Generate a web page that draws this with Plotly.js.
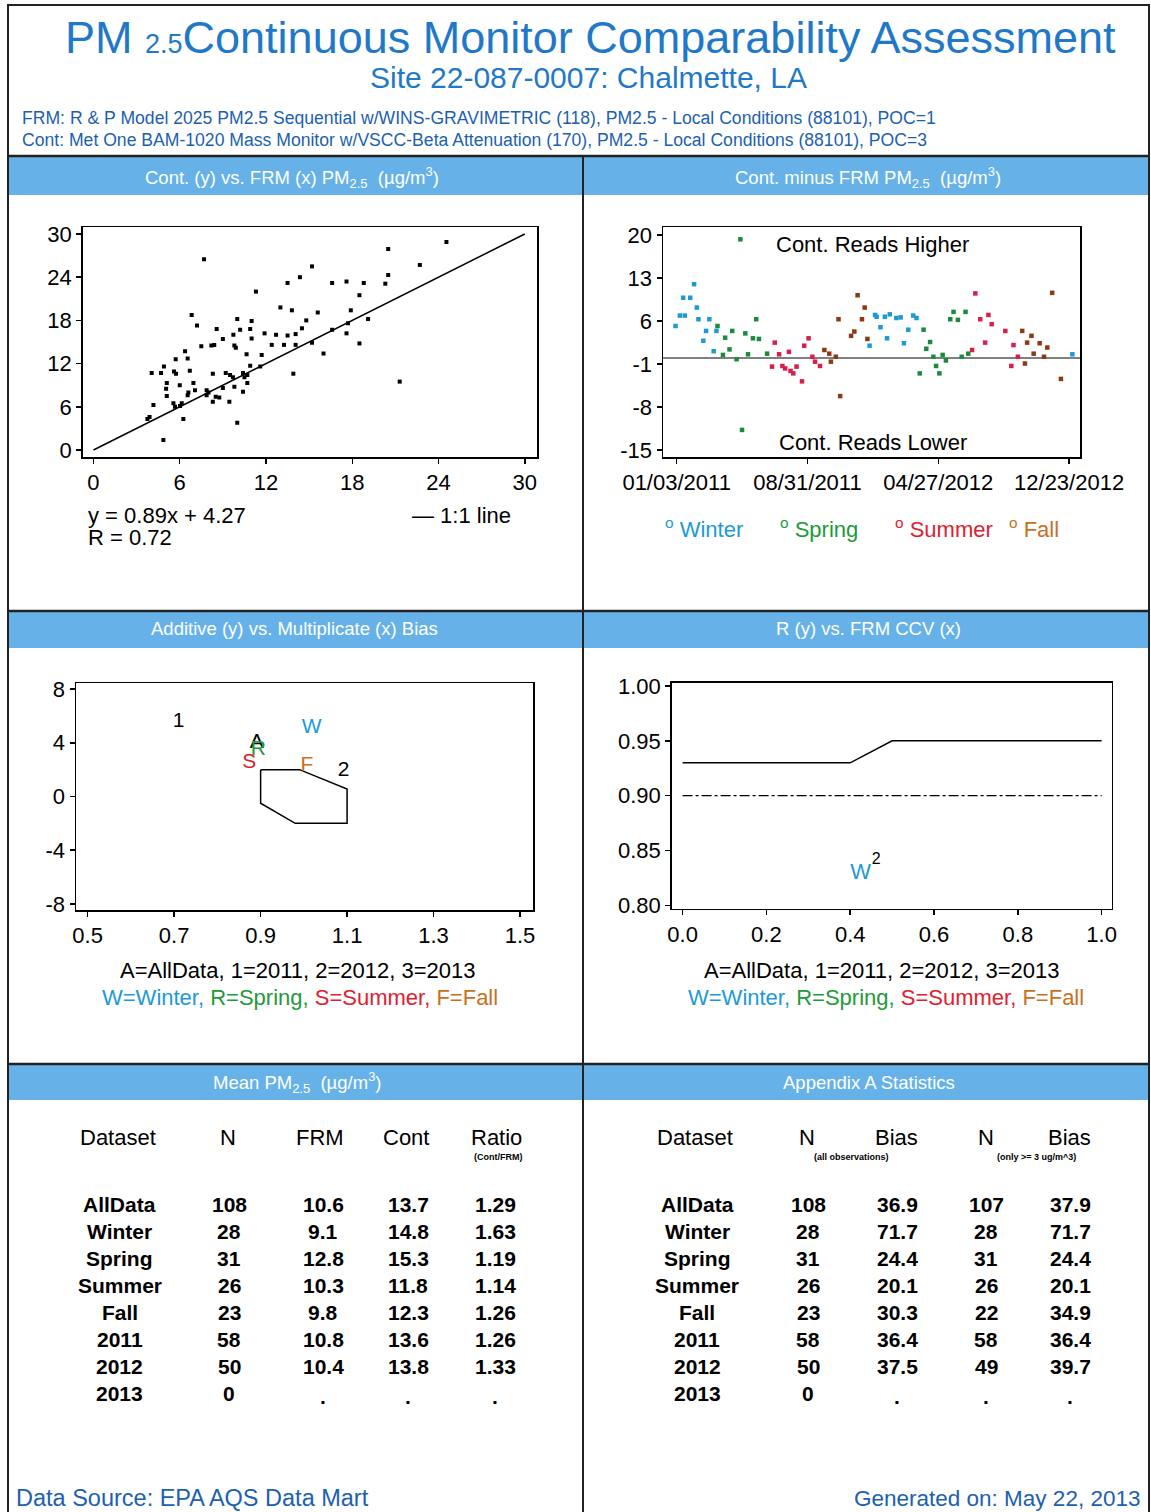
<!DOCTYPE html>
<html>
<head>
<meta charset="utf-8">
<script src="https://cdn.plot.ly/plotly-3.0.1.min.js"></script>
<style>html,body{margin:0;padding:0;background:#fff;}#chart{width:1151px;height:1512px;}</style>
</head>
<body>
<div id="chart"></div>
<script>
// ---------- DATA ----------
// Scatter: Cont (y) vs FRM (x)
const frmX = [7.69,24.55,20.5,22.7,15.2,14.36,20.5,13.5,16.6,17.6,
  18.8,20.3,18.5,11.3,6.83,7.2,10.0,11.0,13.0,13.8,
  15.6,17.9,19.1,14.8,14.5,16.6,17.7,8.57,10.2,10.9,
  11.0,9.0,9.73,11.9,12.7,13.5,14.06,17.6,7.5,8.2,
  8.4,9.8,9.9,13.25,14.06,15.2,18.5,16.0,11.7,10.65,
  6.37,6.55,5.72,10.9,11.6,4.9,4.7,4.05,5.6,5.74,
  6.7,8.3,9.2,9.5,10.4,13.9,9.7,10.5,10.7,5.1,
  6.0,6.95,10.7,21.3,5.05,7.06,7.87,9.0,9.8,6.6,
  6.55,5.1,7.87,8.5,8.75,10.4,8.3,9.45,5.56,5.67,
  6.02,4.17,6.14,3.75,6.25,10.0,4.86,12.4,8.0,3.9];
const contY = [26.5,28.9,27.9,25.7,25.5,24.0,24.3,23.2,23.2,23.4,
  23.2,23.1,21.5,22.0,18.75,17.3,18.2,17.9,19.8,19.4,
  19.1,19.4,18.2,18.0,16.9,16.7,17.6,16.8,16.7,16.8,
  15.5,15.4,16.0,16.2,16.0,15.9,16.1,16.2,14.4,14.5,
  14.6,14.5,14.2,14.6,14.6,14.9,14.8,13.4,13.2,13.3,
  13.7,12.7,12.6,11.7,11.6,11.6,10.7,10.7,10.9,10.6,
  11.0,10.6,10.7,10.4,10.7,10.6,10.1,10.1,10.4,9.3,
  9.0,9.3,9.3,9.5,8.5,8.3,8.3,8.6,8.8,8.0,
  7.6,7.5,7.6,7.4,7.3,8.1,6.7,6.7,6.5,6.0,
  6.1,6.25,6.5,4.3,4.3,3.8,1.4,14.6,8.0,4.6];
const oneToOneX = [0, 30];
const oneToOneY = [0, 30];
const scatterTicks = [0, 6, 12, 18, 24, 30];

// Time series: Cont minus FRM by season
const winterDates = ['2011-01-01','2011-01-09','2011-01-18','2011-01-15','2011-01-28','2011-02-04','2011-02-09','2011-02-12','2011-02-21','2011-02-26','2011-03-04','2011-03-12','2011-03-17',
  '2011-12-23','2012-01-02','2012-01-05','2012-01-12','2012-01-20','2012-01-24','2012-01-29','2012-02-10','2012-02-18','2012-02-24','2012-03-03','2012-03-12','2012-03-18','2012-12-29'];
const winterDiff = [5.2,6.9,6.9,9.8,9.8,12.0,8.2,6.3,2.8,4.4,6.3,1.1,4.4,
  2.0,7.0,6.7,5.0,6.7,3.2,7.1,6.5,6.6,2.4,4.6,6.9,6.5,0.6];
const springDates = ['2011-03-19','2011-03-29','2011-04-02','2011-04-10','2011-04-15','2011-04-23','2011-04-30','2011-05-03','2011-05-09','2011-05-14','2011-05-23','2011-05-29','2011-06-03','2011-06-18',
  '2012-03-24','2012-03-31','2012-04-05','2012-04-12','2012-04-18','2012-04-23','2012-04-29','2012-05-05','2012-05-11','2012-05-19','2012-05-25','2012-06-02','2012-06-09','2012-06-16','2012-06-21'];
const springDiff = [5.2,0.5,3.3,1.4,4.4,-0.2,19.3,-11.7,4.0,0.6,3.2,6.3,3.1,0.7,
  -2.5,4.6,1.5,2.6,0.2,-1.3,-2.5,0.5,-0.4,6.3,7.5,6.2,0.2,7.5,0.7];
const summerDates = ['2011-06-27','2011-07-02','2011-07-10','2011-07-16','2011-07-21','2011-07-28','2011-07-31','2011-08-05','2011-08-11','2011-08-21','2011-08-25','2011-09-02','2011-09-09','2011-09-14','2011-09-23',
  '2012-06-28','2012-07-04','2012-07-13','2012-07-22','2012-07-28','2012-08-03','2012-08-28','2012-09-08','2012-09-12','2012-09-20'];
const summerDiff = [-1.4,2.5,0.6,-1.3,-1.7,1.0,-2.1,-2.5,-1.4,-3.8,2.0,3.2,0.2,-0.6,-1.3,
  1.3,10.5,6.3,2.5,7.0,5.5,4.4,-1.3,2.1,0.2];
const fallDates = ['2011-10-01','2011-10-10','2011-10-13','2011-10-22','2011-10-27','2011-10-30','2011-11-19','2011-11-25','2011-12-01','2011-12-09','2011-12-14','2011-12-19',
  '2012-09-28','2012-10-03','2012-10-07','2012-10-15','2012-10-19','2012-10-30','2012-11-07','2012-11-13','2012-11-22','2012-12-08'];
const fallDiff = [1.3,0.7,-0.6,0.2,6.3,-6.2,3.6,4.3,10.2,6.3,8.2,3.1,
  4.4,-0.9,2.5,3.6,0.7,2.4,0.2,1.7,10.6,-3.4];
const tsTickDates = ['2011-01-03','2011-08-31','2012-04-27','2012-12-23'];
const tsTickText = ['01/03/2011','08/31/2011','04/27/2012','12/23/2012'];
const tsYTicks = [20, 13, 6, -1, -8, -15];
const tsYTickText = ['20', '13', '6', '-1', '-8', '-15'];

// Additive vs multiplicative bias
const biasLabels = ['1','W','A','R','S','F','2'];
const biasSlope = [0.71, 1.018, 0.891, 0.895, 0.874, 1.007, 1.092];
const biasIntercept = [5.6, 5.1, 4.0, 3.45, 2.5, 2.3, 1.95];
const polySlope = [0.9, 0.99, 1.1, 1.1, 0.98, 0.9, 0.9];
const polyIntercept = [2, 2, 0.55, -2, -2, -0.5, 2];
const biasXTicks = [0.5, 0.7, 0.9, 1.1, 1.3, 1.5];
const biasXTickText = ['0.5', '0.7', '0.9', '1.1', '1.3', '1.5'];
const biasYTicks = [8, 4, 0, -4, -8];
const biasYTickText = ['8', '4', '0', '-4', '-8'];

// R vs FRM CCV
const ccvX = [0.0, 0.4, 0.5, 1.0];
const rLimit = [0.93, 0.93, 0.95, 0.95];
const ccvRefX = [0.0, 1.0];
const rRef = [0.90, 0.90];
const rLabels = ['W', '2'];
const rLabelX = [0.425, 0.462];
const rLabelY = [0.829, 0.841];
const rXTicks = [0.0, 0.2, 0.4, 0.6, 0.8, 1.0];
const rXTickText = ['0.0', '0.2', '0.4', '0.6', '0.8', '1.0'];
const rYTicks = [1.00, 0.95, 0.90, 0.85, 0.80];
const rYTickText = ['1.00', '0.95', '0.90', '0.85', '0.80'];

// Tables
const datasets = ['AllData','Winter','Spring','Summer','Fall','2011','2012','2013'];
const meanN = ['108','28','31','26','23','58','50','0'];
const meanFRM = ['10.6','9.1','12.8','10.3','9.8','10.8','10.4','.'];
const meanCont = ['13.7','14.8','15.3','11.8','12.3','13.6','13.8','.'];
const meanRatio = ['1.29','1.63','1.19','1.14','1.26','1.26','1.33','.'];
const appN1 = ['108','28','31','26','23','58','50','0'];
const appBias1 = ['36.9','71.7','24.4','20.1','30.3','36.4','37.5','.'];
const appN2 = ['107','28','31','26','22','58','49','.'];
const appBias2 = ['37.9','71.7','24.4','20.1','34.9','36.4','39.7','.'];

// ---------- LAYOUT HELPERS ----------
const W = 1151, H = 1512;
const FONT = 'Liberation Sans, Arial, sans-serif';
const cWinter = '#1c9ad6', cSpring = '#1b8a3c', cSummer = '#d81e4a', cFall = '#8b3a12';
const lWinter = '#1c9ad6', lSpring = '#1e9a3a', lSummer = '#e0202e', lFall = '#c8701e';
const px = x => x / W, py = y => 1 - y / H;
function ann(text, x, y, o) {
  o = o || {};
  return {text: text, xref: 'paper', yref: 'paper', x: px(x), y: py(y), showarrow: false,
    xanchor: o.xa || 'center', yanchor: 'middle',
    font: {family: FONT, size: o.size || 22, color: o.color || '#000', weight: o.weight || 'normal'}};
}
function axisBase(extra) {
  return Object.assign({showline: true, mirror: true, linecolor: '#000', linewidth: 1.5,
    ticks: 'outside', ticklen: 5, tickcolor: '#000', tickwidth: 1.5, showgrid: false, zeroline: false,
    tickfont: {family: FONT, size: 22, color: '#000'}, fixedrange: true}, extra);
}

const traces = [
  {type: 'scatter', mode: 'markers', x: frmX, y: contY, xaxis: 'x', yaxis: 'y',
    marker: {symbol: 'square', size: 4, color: '#000'}, hoverinfo: 'skip'},
  {type: 'scatter', mode: 'lines', x: oneToOneX, y: oneToOneY, xaxis: 'x', yaxis: 'y',
    line: {color: '#000', width: 1.5}, hoverinfo: 'skip'},
  {type: 'scatter', mode: 'markers', x: winterDates, y: winterDiff, xaxis: 'x2', yaxis: 'y2',
    marker: {symbol: 'square', size: 4.5, color: cWinter}},
  {type: 'scatter', mode: 'markers', x: springDates, y: springDiff, xaxis: 'x2', yaxis: 'y2',
    marker: {symbol: 'square', size: 4.5, color: cSpring}},
  {type: 'scatter', mode: 'markers', x: summerDates, y: summerDiff, xaxis: 'x2', yaxis: 'y2',
    marker: {symbol: 'square', size: 4.5, color: cSummer}},
  {type: 'scatter', mode: 'markers', x: fallDates, y: fallDiff, xaxis: 'x2', yaxis: 'y2',
    marker: {symbol: 'square', size: 4.5, color: cFall}},
  {type: 'scatter', mode: 'lines', x: polySlope, y: polyIntercept, xaxis: 'x3', yaxis: 'y3',
    line: {color: '#000', width: 1.5}},
  {type: 'scatter', mode: 'text', x: biasSlope, y: biasIntercept, text: biasLabels, xaxis: 'x3', yaxis: 'y3',
    textfont: {family: FONT, size: 21, color: ['#000', lWinter, '#000', lSpring, lSummer, lFall, '#000']}},
  {type: 'scatter', mode: 'lines', x: ccvX, y: rLimit, xaxis: 'x4', yaxis: 'y4',
    line: {color: '#000', width: 1.5}},
  {type: 'scatter', mode: 'lines', x: ccvRefX, y: rRef, xaxis: 'x4', yaxis: 'y4',
    line: {color: '#000', width: 1.3, dash: '10px,3px,3px,3px'}},
  {type: 'scatter', mode: 'text', x: rLabelX, y: rLabelY, text: rLabels, xaxis: 'x4', yaxis: 'y4',
    textfont: {family: FONT, size: [22, 16], color: [lWinter, '#000']}}
];

const shapes = [];
const frameColor = '#222';
shapes.push({type: 'rect', xref: 'paper', yref: 'paper', x0: px(8), x1: px(1149), y0: py(1513), y1: py(5), line: {color: frameColor, width: 2}});
[[156, 195], [611, 648], [1064, 1100]].forEach(b => {
  shapes.push({type: 'rect', xref: 'paper', yref: 'paper', x0: px(9), x1: px(1148), y0: py(b[1]), y1: py(b[0]),
    fillcolor: '#66b2e8', line: {width: 0}, layer: 'below'});
  shapes.push({type: 'line', xref: 'paper', yref: 'paper', x0: px(8), x1: px(1149), y0: py(b[0]), y1: py(b[0]),
    line: {color: frameColor, width: 2.5}});
});
shapes.push({type: 'line', xref: 'paper', yref: 'paper', x0: px(583), x1: px(583), y0: py(156), y1: py(1513),
  line: {color: frameColor, width: 2}});
shapes.push({type: 'line', xref: 'x2 domain', yref: 'y2', x0: 0, x1: 1, y0: 0, y1: 0,
  line: {color: '#808080', width: 2}, layer: 'below'});

const seasonLegend = '<span style="color:' + lWinter + '">W=Winter, </span><span style="color:' + lSpring + '">R=Spring, </span><span style="color:' + lSummer + '">S=Summer, </span><span style="color:' + lFall + '">F=Fall</span>';
const annotations = [
  ann('PM <span style="font-size:27px">2.5</span>Continuous Monitor Comparability Assessment', 590, 38, {size: 45, color: '#1f78c8'}),
  ann('Site 22-087-0007: Chalmette, LA', 588, 77, {size: 30, color: '#1f78c8'}),
  ann('FRM: R &amp; P Model 2025 PM2.5 Sequential w/WINS-GRAVIMETRIC (118), PM2.5 - Local Conditions (88101), POC=1', 20, 118, {xa: 'left', size: 17.6, color: '#1d5fae'}),
  ann('Cont: Met One BAM-1020 Mass Monitor w/VSCC-Beta Attenuation (170), PM2.5 - Local Conditions (88101), POC=3', 20, 140, {xa: 'left', size: 17.6, color: '#1d5fae'}),
  ann('Cont. (y) vs. FRM (x) PM<sub>2.5</sub>  (µg/m<sup>3</sup>)', 292, 177, {size: 18.5, color: '#fff'}),
  ann('Cont. minus FRM PM<sub>2.5</sub>  (µg/m<sup>3</sup>)', 868, 177, {size: 18.5, color: '#fff'}),
  ann('Additive (y) vs. Multiplicate (x) Bias', 294, 629, {size: 18.5, color: '#fff'}),
  ann('R (y) vs. FRM CCV (x)', 868, 629, {size: 18.5, color: '#fff'}),
  ann('Mean PM<sub>2.5</sub>  (µg/m<sup>3</sup>)', 297, 1082, {size: 18.5, color: '#fff'}),
  ann('Appendix A Statistics', 869, 1082, {size: 18.5, color: '#fff'}),
  ann('y = 0.89x + 4.27', 86, 515, {xa: 'left'}),
  ann('R = 0.72', 86, 537, {xa: 'left'}),
  ann('— 1:1 line', 410, 515, {xa: 'left'}),
  ann('Cont. Reads Higher', 872, 245),
  ann('Cont. Reads Lower', 873, 443),
  ann('<sup>o</sup> Winter', 663, 528, {xa: 'left', color: lWinter}),
  ann('<sup>o</sup> Spring', 778, 528, {xa: 'left', color: lSpring}),
  ann('<sup>o</sup> Summer', 893, 528, {xa: 'left', color: lSummer}),
  ann('<sup>o</sup> Fall', 1007, 528, {xa: 'left', color: lFall}),
  ann('A=AllData, 1=2011, 2=2012, 3=2013', 298, 970),
  ann(seasonLegend, 300, 998),
  ann('A=AllData, 1=2011, 2=2012, 3=2013', 882, 970),
  ann(seasonLegend, 886, 998),
  ann('Data Source: EPA AQS Data Mart', 14, 1498, {xa: 'left', size: 23.5, color: '#2060b0'}),
  ann('Generated on: May 22, 2013', 1142, 1498, {xa: 'right', size: 22.5, color: '#2060b0'})
];

// Tables built from arrays
const rowY0 = 1204, rowDY = 27.1;
const meanHead = [['Dataset', 118], ['N', 228], ['FRM', 320], ['Cont', 406], ['Ratio', 496]];
meanHead.forEach(h => annotations.push(ann(h[0], h[1], 1137)));
annotations.push(ann('(Cont/FRM)', 498, 1157, {size: 9, weight: 'bold'}));
const appHead = [['Dataset', 695], ['N', 807], ['Bias', 896], ['N', 986], ['Bias', 1069]];
appHead.forEach(h => annotations.push(ann(h[0], h[1], 1137)));
annotations.push(ann('(all observations)', 851, 1157, {size: 9, weight: 'bold'}));
annotations.push(ann('(only >= 3 ug/m^3)', 1036, 1157, {size: 9, weight: 'bold'}));
const meanCols = [[datasets, 120], [meanN, 229], [meanFRM, 323], [meanCont, 408], [meanRatio, 495]];
const appCols = [[datasets, 697], [appN1, 808], [appBias1, 897], [appN2, 986], [appBias2, 1070]];
[meanCols, appCols].forEach(cols => cols.forEach(c => {
  c[0].forEach((v, i) => {
    const yy = rowY0 + i * rowDY + (v === '.' ? 3 : 0);
    annotations.push(ann(v, c[1], yy, {size: 21, weight: 'bold'}));
  });
}));

const layout = {
  width: W, height: H, margin: {l: 0, r: 0, t: 0, b: 0},
  paper_bgcolor: '#fff', plot_bgcolor: '#fff', showlegend: false,
  font: {family: FONT, color: '#000'},
  xaxis: axisBase({domain: [px(82.7), px(537)], range: [-0.75, 30.85], tickvals: scatterTicks, anchor: 'y'}),
  yaxis: axisBase({domain: [py(457), py(227)], range: [-0.97, 30.97], tickvals: scatterTicks, anchor: 'x'}),
  xaxis2: axisBase({domain: [px(663), px(1080)], type: 'date', range: ['2010-12-09', '2013-01-12'],
    tickvals: tsTickDates, ticktext: tsTickText, anchor: 'y2'}),
  yaxis2: axisBase({domain: [py(457), py(227)], range: [-16.1, 21.3], tickvals: tsYTicks, ticktext: tsYTickText, anchor: 'x2'}),
  xaxis3: axisBase({domain: [px(76), px(533)], range: [0.473, 1.53], tickvals: biasXTicks, ticktext: biasXTickText, anchor: 'y3'}),
  yaxis3: axisBase({domain: [py(910), py(683)], range: [-8.45, 8.45], tickvals: biasYTicks, ticktext: biasYTickText, anchor: 'x3'}),
  xaxis4: axisBase({domain: [px(671.7), px(1111.7)], range: [-0.026, 1.024], tickvals: rXTicks, ticktext: rXTickText, anchor: 'y4'}),
  yaxis4: axisBase({domain: [py(908.7), py(682.7)], range: [0.797, 1.003], tickvals: rYTicks, ticktext: rYTickText, anchor: 'x4'}),
  shapes: shapes,
  annotations: annotations
};

Plotly.newPlot('chart', traces, layout, {staticPlot: true, displayModeBar: false});
</script>
</body>
</html>
